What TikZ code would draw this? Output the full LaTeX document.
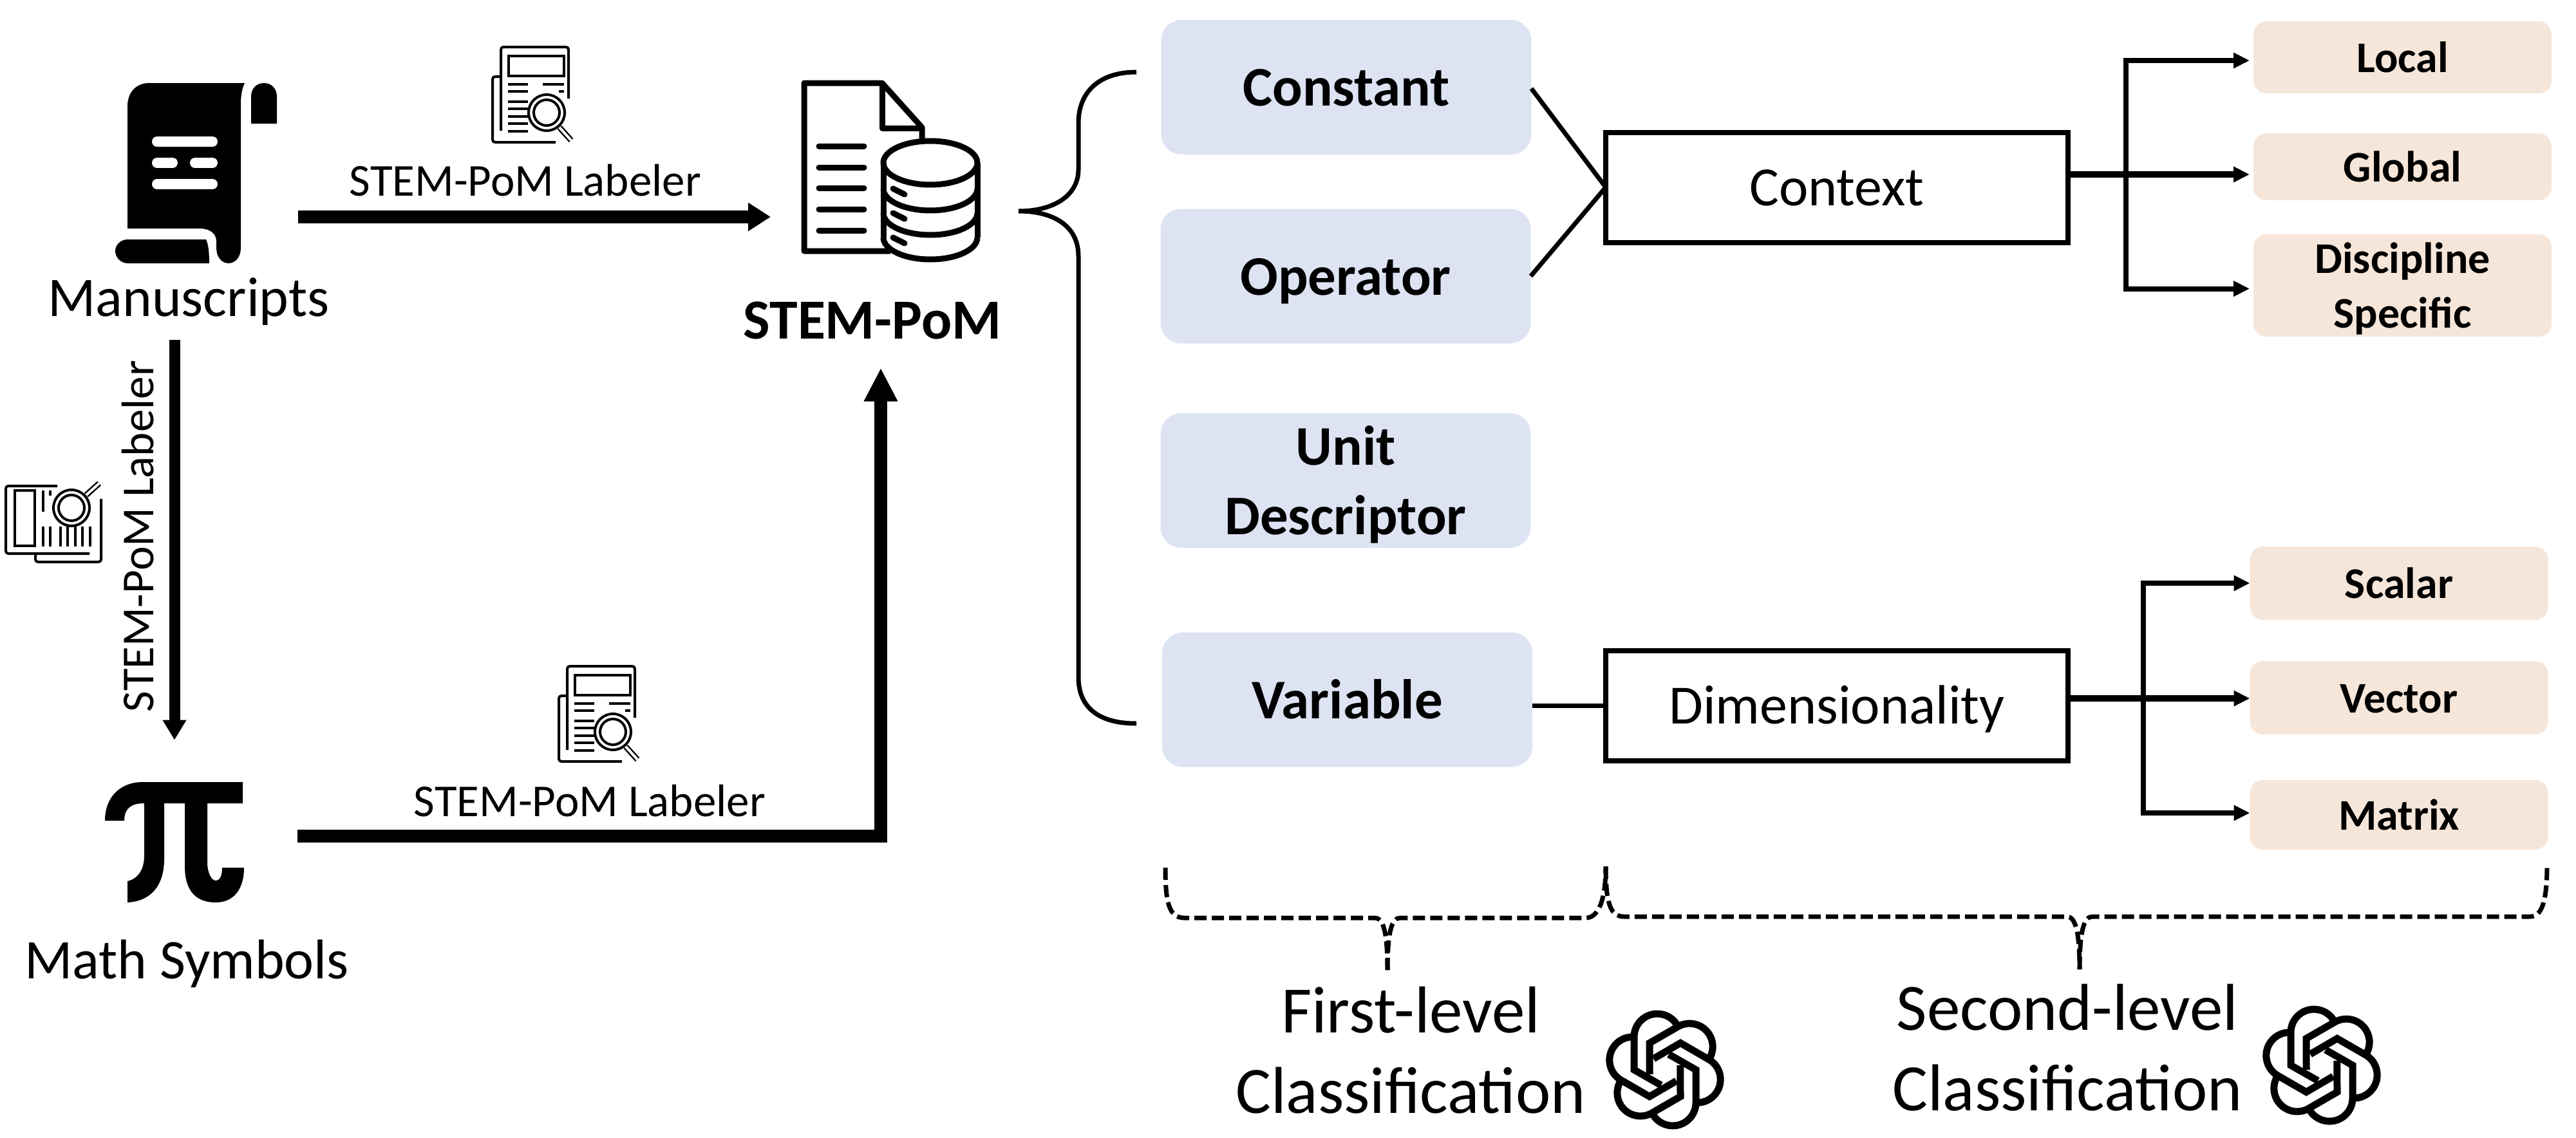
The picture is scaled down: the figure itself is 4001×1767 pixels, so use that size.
\documentclass[tikz,border=0pt]{standalone}
\usepackage{fontspec}
\setmainfont{Carlito}
\usepackage{tikz}
\usetikzlibrary{arrows.meta,calc}

\definecolor{classblue}{HTML}{DDE3F2}
\definecolor{classpeach}{HTML}{F6E6D9}

\tikzset{
	x=1pt, y=1pt,
	firstclass/.style = {fill=classblue, rounded corners=32pt, inner sep=0pt, outer sep=0pt,
		minimum width=575pt, minimum height=209pt, align=center,
		font=\fontsize{87}{108}\selectfont\bfseries},
	secondbox/.style = {draw, line width=8pt, inner sep=0pt, outer sep=0pt,
		minimum width=718pt, minimum height=171pt, text height=56pt, text depth=0pt,
		font=\fontsize{86}{100}\selectfont},
	leafclass/.style = {fill=classpeach, rounded corners=20pt, inner sep=0pt, outer sep=0pt,
		minimum width=463pt, align=center, font=\fontsize{68}{85}\selectfont\bfseries},
	iconbox/.style = {inner sep=0pt, outer sep=0pt},
	plainlabel/.style = {inner sep=0pt, outer sep=0pt, anchor=base, font=\fontsize{87}{100}\selectfont},
	labelerlabel/.style = {inner sep=0pt, outer sep=0pt, anchor=base, font=\fontsize{71}{84}\selectfont},
	levellabel/.style = {inner sep=0pt, outer sep=0pt, align=center, font=\fontsize{103}{125}\selectfont},
	bigarrow/.style = {line width=20pt, -{Triangle[length=35pt,width=42pt]}},
	linkarrow/.style = {line width=8pt, -{Triangle[length=25pt,width=23pt]}},
	linkline/.style = {line width=7pt},
	dashbrace/.style = {line width=7pt, dash pattern=on 19pt off 8pt},
}

% thin line icon of a paper under a magnifier
\newcommand{\labelericon}[2]{
	\begin{scope}[shift={#1}, rotate=#2, line width=4pt]
		\draw[rounded corners=4pt] (-50,-55) -- (-50,75) -- (55,75) -- (55,-5);
		\draw[rounded corners=4pt] (-50,29) -- (-63,29) -- (-63,-73) -- (35,-73);
		\draw (-38,30) rectangle (48,61);
		\foreach \y in {17,6,-10,-21,-33,-44,-56}
			\draw (-39,\y) -- (-8,\y);
		\draw (15,17) -- (48,17);
		\draw (40,6) -- (48,6);
		\draw (21,-27) circle (28);
		\draw (21,-27) circle (20);
		\draw[double, line width=2.5pt, double distance=4pt] (41,-50) -- (59,-70);
	\end{scope}
}

% six turned strands of the knot logo
\newcommand{\knotlogo}[1]{
	\begin{scope}[shift={#1}, line width=11pt]
		\foreach \a in {0,60,...,300}
			\draw[rotate=\a] (-6,-24) -- (-48,0) -- (-48,51) arc[start angle=180, end angle=27, radius=36];
	\end{scope}
}

\begin{document}
\begin{tikzpicture}
\useasboundingbox (0,0) rectangle (4001,-1767);

	% first level
	\node[firstclass, text height=58pt, text depth=0pt] (Constant) at (2091,-135.5) {Constant};
	\node[firstclass, text height=58pt, text depth=0pt] (Operator) at (2090,-429) {Operator};
	\node[firstclass, text depth=2pt] (Unit) at (2090,-746.5) {Unit\\Descriptor};
	\node[firstclass, text height=58pt, text depth=0pt] (Variable) at (2092.5,-1087) {Variable};

	% second level
	\node[secondbox] (Context) at (2853,-291) {Context};
	\node[secondbox] (Dimensionality) at (2853,-1096) {Dimensionality};

	\node[leafclass, minimum height=112pt, text height=46pt, text depth=0pt] (Local) at (3731.5,-89) {Local};
	\node[leafclass, minimum height=104pt, text height=46pt, text depth=0pt] (Global) at (3731.5,-259) {Global};
	\node[leafclass, minimum height=159pt, text depth=0pt] (Discipline) at (3731.5,-443.5) {Discipline\\Specific};
	\node[leafclass, minimum height=114pt, text height=46pt, text depth=0pt] (Scalar) at (3726,-906) {Scalar};
	\node[leafclass, minimum height=114pt, text height=46pt, text depth=0pt] (Vector) at (3726,-1084) {Vector};
	\node[leafclass, minimum height=108pt, text height=46pt, text depth=0pt] (Matrix) at (3726,-1266) {Matrix};

	% left side
	\node[iconbox, minimum width=251pt, minimum height=280pt] (Scroll) at (304.5,-269) {};
	\node[iconbox, minimum width=277pt, minimum height=285pt] (StemIcon) at (1383.5,-267) {};
	\node[iconbox, minimum width=216pt, minimum height=187pt] (PiIcon) at (271,-1308) {};

	\node[plainlabel] (Manuscripts) at (293,-491) {Manuscripts};
	\node[plainlabel] (MathSymbols) at (290,-1520) {Math Symbols};
	\node[plainlabel, font=\fontsize{88}{100}\selectfont\bfseries] (StemLabel) at (1355,-526) {STEM-PoM};
	\node[labelerlabel] (LabelerTop) at (816,-304) {STEM-PoM Labeler};
	\node[labelerlabel] (LabelerBottom) at (916,-1268) {STEM-PoM Labeler};
	\node[labelerlabel, rotate=90] (LabelerLeft) at (238,-833) {STEM-PoM Labeler};

	\node[levellabel] (FirstLevel) at (2191,-1632) {First-level\\Classification};
	\node[levellabel] (SecondLevel) at (3211,-1628) {Second-level\\Classification};

	% scroll
	\fill (198,-355) -- (198,-165) .. controls (198,-145) and (210,-129) .. (232,-129) -- (380,-129)
		.. controls (375,-140) and (374,-150) .. (374,-165) -- (374,-385)
		.. controls (374,-400) and (365,-409) .. (355,-409) .. controls (345,-409) and (336,-400) .. (336,-385)
		-- (336,-375) .. controls (336,-362) and (325,-355) .. (310,-355) -- cycle;
	\fill (390,-192) -- (390,-150) .. controls (390,-138) and (398,-129) .. (410,-129)
		.. controls (422,-129) and (430,-138) .. (430,-150) -- (430,-192) -- cycle;
	\fill (325,-409) -- (198,-409) .. controls (188,-409) and (179,-400) .. (179,-390)
		.. controls (179,-380) and (188,-372) .. (198,-372) -- (320,-372)
		.. controls (324,-380) and (325,-395) .. (325,-409) -- cycle;
	\draw[white, line width=16pt, line cap=round] (244,-220) -- (330,-220) (244,-253) -- (268,-253)
		(303,-253) -- (330,-253) (244,-286) -- (330,-286);

	% pi
	\fill (163,-1275) .. controls (163,-1240) and (185,-1215) .. (222,-1215) -- (377,-1215) -- (377,-1248)
		-- (322,-1248) -- (322,-1340) .. controls (322,-1355) and (328,-1368) .. (335,-1368)
		.. controls (342,-1368) and (345,-1360) .. (345,-1348) -- (379,-1348)
		.. controls (379,-1385) and (360,-1402) .. (335,-1402) .. controls (305,-1402) and (287,-1385) .. (287,-1345)
		-- (287,-1248) -- (255,-1248) -- (255,-1335) .. controls (255,-1375) and (235,-1400) .. (198,-1402)
		-- (198,-1369) .. controls (215,-1365) and (224,-1350) .. (224,-1330) -- (224,-1248)
		.. controls (205,-1248) and (193,-1255) .. (193,-1275) -- cycle;

	% document with database
	\begin{scope}[line width=9pt, line join=round]
		\draw (1383,-390) -- (1249,-390) -- (1249,-129) -- (1370,-129) -- (1432,-198) -- (1432,-218);
		\draw (1370,-129) -- (1370,-199) -- (1432,-199);
		\foreach \y in {227,260,292,325,358}
			\draw[line cap=round] (1272,-\y) -- (1342,-\y);
		\draw (1445,-253) ellipse (73 and 34);
		\draw (1372,-253) -- (1372,-369) (1518,-253) -- (1518,-369);
		\foreach \y in {293,331,369} {
			\draw (1372,-\y) arc[start angle=180, end angle=360, x radius=73, y radius=34];
			\draw[line cap=round] (1387,-\y) -- (1405,-\y-9);
		}
	\end{scope}

	\labelericon{(828,-148)}{0}
	\labelericon{(84,-810)}{90}
	\labelericon{(931,-1110)}{0}
	\knotlogo{(2586,-1662)}
	\knotlogo{(3606,-1655)}

	% big arrows
	\coordinate (TopRow) at (0,-337);
	\coordinate (BottomRow) at (0,-1299);
	\coordinate (DownCol) at (271,0);
	\draw[bigarrow, shorten <=33pt, shorten >=48pt] (Scroll.east |- TopRow) -- (StemIcon.west |- TopRow);
	\draw[line width=17pt, -{Triangle[length=31pt,width=35pt]}, shorten <=23pt, shorten >=65pt]
		(DownCol |- Manuscripts.south) -- (DownCol |- PiIcon.north);
	\draw[line width=20pt, -{Triangle[length=52pt,width=49pt]}, shorten <=83pt, shorten >=45pt]
		(PiIcon.east |- BottomRow) -| ([xshift=13pt]StemLabel.south);

	% brace of the first level
	\draw[line width=7pt] (1765,-112) .. controls (1705,-112) and (1675,-145) .. (1675,-191) -- (1675,-263)
		.. controls (1675,-305) and (1635,-328) .. (1582,-328)
		.. controls (1635,-328) and (1675,-350) .. (1675,-398) -- (1675,-1052)
		.. controls (1675,-1098) and (1705,-1124) .. (1765,-1124);

	\draw[linkline] ([yshift=-2pt]Constant.east) -- (Context.west);
	\draw[linkline] (Operator.east) -- (Context.west);
	\draw[linkline] (Variable.east |- Dimensionality.west) -- (Dimensionality.west);

	% context fork
	\coordinate (ContextFork) at (3302,-271);
	\draw[linkarrow, line width=10pt, shorten >=6pt] (Context.east |- ContextFork) -- (Global.west |- ContextFork);
	\draw[linkarrow, shorten >=6pt] (ContextFork) |- ([yshift=-5pt]Local.west);
	\draw[linkarrow, shorten >=6pt] (ContextFork) |- ([yshift=-5pt]Discipline.west);

	% dimensionality fork
	\coordinate (DimFork) at (3329,-1085);
	\draw[linkarrow, line width=10pt] (Dimensionality.east |- DimFork) -- (Vector.west |- DimFork);
	\draw[linkarrow] (DimFork) |- (Scalar.west);
	\draw[linkarrow] (DimFork) |- ([yshift=3pt]Matrix.west);

	% dashed braces under the levels
	\draw[dashbrace] (1810,-1348) .. controls (1810,-1400) and (1815,-1426) .. (1839,-1426) -- (2135,-1426)
		.. controls (2148,-1426) and (2155,-1445) .. (2155,-1507);
	\draw[dashbrace] (2155,-1507) .. controls (2155,-1445) and (2162,-1426) .. (2175,-1426) -- (2463,-1426)
		.. controls (2482,-1426) and (2494,-1400) .. (2494,-1346);
	\draw[dashbrace] (2494,-1346) .. controls (2494,-1400) and (2500,-1424) .. (2522,-1424) -- (3210,-1424)
		.. controls (3223,-1424) and (3230,-1445) .. (3230,-1506);
	\draw[dashbrace] (3230,-1506) .. controls (3230,-1445) and (3237,-1424) .. (3250,-1424) -- (3930,-1424)
		.. controls (3948,-1424) and (3956,-1400) .. (3956,-1344);

\end{tikzpicture}
\end{document}
